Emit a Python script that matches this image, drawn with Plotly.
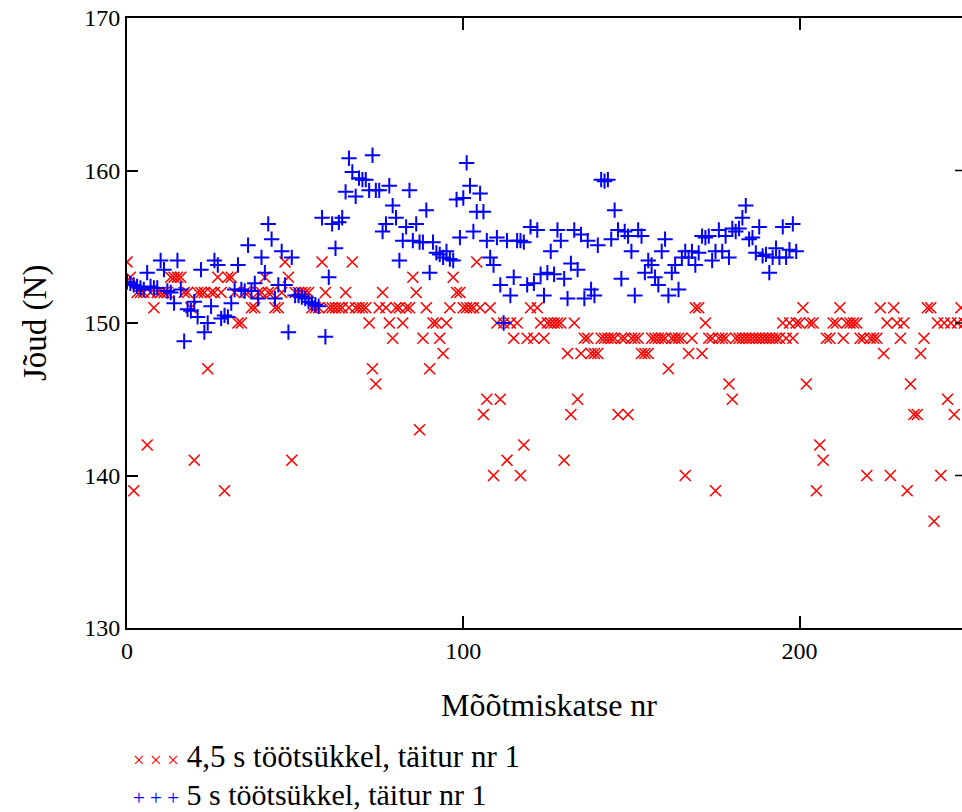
import plotly.graph_objects as go

# Red series: 4,5 s töötsükkel, täitur nr 1 (force in N per measurement index)
red_y = [
    154, 153, 139, 152, 152, 152, 142, 152, 151, 152,
    152, 152, 152, 153, 153, 153, 153, 152, 152, 151,
    141, 152, 152, 152, 147, 152, 152, 153, 152, 139,
    153, 153, 152, 150, 150, 152, 152, 151, 151, 152,
    152, 153, 152, 152, 151, 151, 152, 154, 153, 141,
    152, 152, 152, 152, 152, 151, 151, 151, 154, 152,
    151, 151, 151, 151, 151, 152, 151, 154, 151, 151,
    151, 151, 150, 147, 146, 151, 152, 151, 150, 149,
    151, 151, 150, 151, 151, 153, 152, 143, 149, 151,
    147, 150, 150, 149, 148, 150, 151, 153, 152, 152,
    151, 151, 151, 151, 154, 151, 144, 145, 151, 140,
    150, 145, 150, 141, 150, 149, 150, 140, 142, 149,
    151, 149, 151, 150, 149, 150, 150, 150, 150, 150,
    141, 148, 144, 150, 145, 148, 149, 149, 148, 148,
    148, 149, 149, 149, 149, 149, 144, 149, 149, 144,
    149, 149, 149, 148, 148, 148, 149, 149, 149, 149,
    149, 147, 149, 149, 149, 149, 140, 148, 149, 151,
    151, 148, 150, 149, 149, 139, 149, 149, 149, 146,
    145, 149, 149, 149, 149, 149, 149, 149, 149, 149,
    149, 149, 149, 149, 149, 150, 149, 150, 149, 150,
    150, 151, 146, 150, 150, 139, 142, 141, 149, 149,
    150, 150, 151, 149, 150, 150, 150, 150, 149, 149,
    140, 149, 149, 149, 151, 148, 150, 140, 151, 150,
    149, 150, 139, 146, 144, 144, 148, 149, 151, 151,
    137, 150, 140, 150, 145, 150, 144, 150, 151, 150,
]

# Blue series: 5 s töötsükkel, täitur nr 1
blue_y = [
    152.7, 152.6, 152.5, 152.4, 152.3, 152.2, 153.3, 152.4, 152.3, 152.3,
    154.1, 153.5, 152.1, 152.0, 151.3, 154.1, 152.2, 148.8, 150.9, 150.8,
    151.4, 150.4, 153.5, 149.4, 150.0, 151.1, 154.1, 153.8, 150.3, 150.5,
    150.4, 151.3, 152.2, 153.8, 152.2, 152.1, 155.1, 152.1, 152.6, 151.6,
    154.3, 153.3, 156.5, 155.5, 151.6, 152.5, 154.7, 152.5, 149.4, 154.3,
    151.8, 151.8, 151.7, 151.6, 151.4, 151.3, 151.2, 151.1, 156.9, 149.1,
    153.0, 156.5, 154.9, 156.6, 156.9, 158.6, 160.8, 159.9, 158.3, 159.5,
    159.4, 159.4, 158.7, 161.0, 158.7, 158.7, 156.0, 156.5, 159.0, 157.7,
    156.9, 154.1, 155.4, 156.3, 158.7, 155.4, 156.5, 155.3, 155.3, 157.4,
    153.3, 155.3, 154.6, 154.5, 154.3, 154.7, 154.2, 154.1, 158.1, 155.6,
    158.2, 160.5, 159.0, 156.0, 157.3, 158.5, 157.3, 155.4, 154.3, 153.8,
    155.6, 152.5, 150.0, 155.4, 151.8, 153.0, 155.4, 155.4, 155.3, 152.5,
    156.3, 152.6, 156.1, 153.2, 151.8, 153.3, 154.7, 153.2, 156.1, 155.4,
    152.9, 151.6, 153.9, 156.1, 153.5, 155.8, 151.6, 155.4, 152.2, 151.8,
    155.1, 159.4, 159.3, 159.4, 155.5, 157.4, 156.1, 152.9, 156.0, 155.7,
    154.7, 151.8, 156.1, 155.7, 153.3, 154.1, 153.8, 153.0, 152.5, 154.7,
    155.5, 151.8, 153.3, 153.8, 152.2, 154.3, 154.7, 154.3, 154.7, 153.8,
    154.6, 155.7, 155.6, 155.7, 154.1, 154.7, 156.1, 154.7, 155.7, 154.3,
    156.2, 156.0, 156.2, 156.9, 157.7, 155.5, 155.6, 154.6, 156.3, 154.4,
    154.5, 153.3, 154.3, 154.9, 154.3, 156.3, 154.3, 154.8, 156.5, 154.7,
]

red_x = list(range(len(red_y)))
blue_x = list(range(len(blue_y)))

red_name = "4,5 s töötsükkel, täitur nr 1"
blue_name = "5 s töötsükkel, täitur nr 1"
x_title = "Mõõtmiskatse nr"
y_title = "Jõud (N)"
x_ticks = [0, 100, 200]
y_ticks = [130, 140, 150, 160, 170]

FONT = "Liberation Serif, Times New Roman, serif"

fig = go.Figure()
fig.add_trace(go.Scatter(
    x=red_x, y=red_y, mode="markers", name=red_name,
    marker=dict(symbol="x-thin", size=11, color="#ff0000",
                line=dict(color="#ff0000", width=1.6)),
))
fig.add_trace(go.Scatter(
    x=blue_x, y=blue_y, mode="markers", name=blue_name,
    marker=dict(symbol="cross-thin", size=11, color="#0000ff",
                line=dict(color="#0000ff", width=2)),
))

fig.update_layout(
    width=962, height=812,
    margin=dict(l=127, r=0, t=18, b=184),
    paper_bgcolor="white", plot_bgcolor="white",
    showlegend=False,
    font=dict(family=FONT, color="black"),
)
fig.update_xaxes(
    range=[0, 248.3], tickvals=x_ticks, ticktext=[str(v) for v in x_ticks],
    ticks="inside", ticklen=12, tickwidth=1.5, tickcolor="black",
    showline=True, linecolor="black", linewidth=2, mirror="ticks",
    showgrid=False, zeroline=False,
    tickfont=dict(family=FONT, size=24, color="black"),
)
fig.update_yaxes(
    range=[130, 170], tickvals=y_ticks, ticktext=[str(v) for v in y_ticks],
    ticks="inside", ticklen=11, tickwidth=1.5, tickcolor="black",
    showline=True, linecolor="black", linewidth=2, mirror=False,
    showgrid=False, zeroline=False,
    tickfont=dict(family=FONT, size=24, color="black"),
)

# right-side inward ticks (the right axis line lies just beyond the window)
for v in y_ticks[1:-1]:
    fig.add_shape(type="line", xref="paper", yref="y", xsizemode="pixel",
                  xanchor=1, x0=-7, x1=0, y0=v, y1=v,
                  line=dict(color="black", width=1.5))

# axis titles
fig.add_annotation(text=x_title, xref="paper", yref="paper",
                   x=(549 - 127) / 835, y=(628 - 705) / 610,
                   xanchor="center", yanchor="middle", showarrow=False,
                   font=dict(family=FONT, size=32, color="black"))
fig.add_annotation(text=y_title, xref="paper", yref="paper",
                   x=(35 - 127) / 835, y=(628 - 323) / 610, textangle=-90,
                   xanchor="center", yanchor="middle", showarrow=False,
                   font=dict(family=FONT, size=33, color="black"))

# legend (Mathcad style, three symbols then the label)
fig.add_annotation(
    text="<span style='color:#ff0000;font-size:21px'>× × ×</span> " + red_name,
    xref="paper", yref="paper", x=(131 - 127) / 835, y=(628 - 756) / 610,
    xanchor="left", yanchor="middle", showarrow=False, align="left",
    font=dict(family=FONT, size=31, color="black"))
fig.add_annotation(
    text="<span style='color:#0000ff;font-size:21px'>+ + +</span> " + blue_name,
    xref="paper", yref="paper", x=(131 - 127) / 835, y=(628 - 794) / 610,
    xanchor="left", yanchor="middle", showarrow=False, align="left",
    font=dict(family=FONT, size=30, color="black"))

fig.write_html("out.html")
